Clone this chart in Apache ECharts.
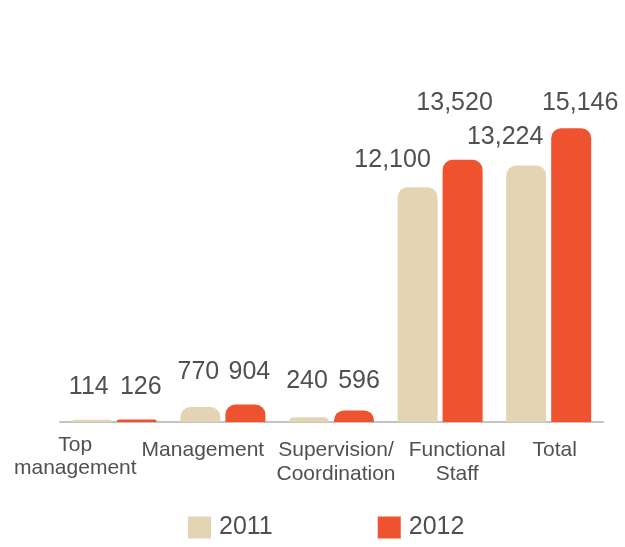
<!DOCTYPE html>
<html>
<head>
<meta charset="utf-8">
<script src="https://cdn.jsdelivr.net/npm/echarts@6/dist/echarts.min.js"></script>
<style>
  html, body { margin: 0; padding: 0; background: #fff; }
  #chart { width: 625px; height: 547px; }
</style>
</head>
<body>
<div id="chart"></div>
<script>
// Headcount by level, 2011 vs 2012
const categories = ['Top management', 'Management', 'Supervision/Coordination', 'Functional Staff', 'Total'];
const values2011 = [114, 770, 240, 12100, 13224];
const values2012 = [126, 904, 596, 13520, 15146];
const seriesNames = ['2011', '2012'];

const FONT = '"Liberation Sans", Arial, sans-serif';
const TEXT = '#505050';

// hand-placed value label nudges [dx, dy] per bar
const labelShift2011 = [[-3, -15], [-2, -17], [-2, -19], [-25, -10], [-21, -11]];
const labelShift2012 = [[4, -15], [4, -15], [5, -12], [-8, -39], [9, -8]];

function withLabels(values, shifts) {
  return values.map((v, i) => ({
    value: v,
    label: { offset: shifts[i] }
  }));
}

// multi-line category labels, each line nudged via rich padding / line heights
const labelRich = {
  tm1: { padding: [0, 78, 0, 0], lineHeight: 14 },
  tm2: { padding: [0, 78, 0, 0], lineHeight: 32 },
  mg:  { padding: [0, 40, 0, 0], lineHeight: 24 },
  sv:  { padding: [0, 0, 0, 9], lineHeight: 24 },
  fs:  { padding: [0, 0, 0, 34], lineHeight: 24 },
  tt:  { padding: [0, 0, 0, 12], lineHeight: 24 }
};
const labelFormat = {
  'Top management': '{tm1|Top}\n{tm2|management}',
  'Management': '{mg|Management}',
  'Supervision/Coordination': '{sv|Supervision/}\n{sv|Coordination}',
  'Functional Staff': '{fs|Functional}\n{fs|Staff}',
  'Total': '{tt|Total}'
};

const valueLabel = {
  show: true,
  position: 'top',
  distance: 5,
  fontFamily: FONT,
  fontSize: 25,
  color: TEXT,
  formatter: p => p.value.toLocaleString('en-US')
};

const chart = echarts.init(document.getElementById('chart'), null, { renderer: 'canvas' });
chart.setOption({
  animation: false,
  backgroundColor: '#ffffff',
  textStyle: { fontFamily: FONT },
  grid: { left: 60, right: 22, top: 34, bottom: 125, containLabel: false },
  legend: {
    data: seriesNames,
    left: 188,
    top: 515,
    padding: 0,
    itemWidth: 23,
    itemHeight: 22,
    itemGap: 105,
    icon: 'rect',
    selectedMode: false,
    textStyle: { fontFamily: FONT, fontSize: 25, color: TEXT, padding: [6, 0, 0, 3] }
  },
  xAxis: {
    type: 'category',
    data: categories,
    axisLine: { show: true, lineStyle: { color: '#c3c3c3', width: 2 } },
    axisTick: { show: false },
    axisLabel: {
      interval: 0,
      margin: 16,
      fontFamily: FONT,
      fontSize: 21,
      color: TEXT,
      formatter: v => labelFormat[v],
      rich: labelRich
    }
  },
  yAxis: {
    type: 'value',
    min: 0,
    max: 20000,
    show: false,
    splitLine: { show: false }
  },
  series: [
    {
      name: seriesNames[0],
      type: 'bar',
      barWidth: 40,
      barGap: '12.5%',
      data: withLabels(values2011, labelShift2011),
      itemStyle: { color: '#e3d4b4', borderRadius: [10, 10, 0, 0] },
      label: valueLabel
    },
    {
      name: seriesNames[1],
      type: 'bar',
      barWidth: 40,
      barGap: '12.5%',
      data: withLabels(values2012, labelShift2012),
      itemStyle: { color: '#ee522e', borderRadius: [10, 10, 0, 0] },
      label: valueLabel
    }
  ]
});
</script>
</body>
</html>
